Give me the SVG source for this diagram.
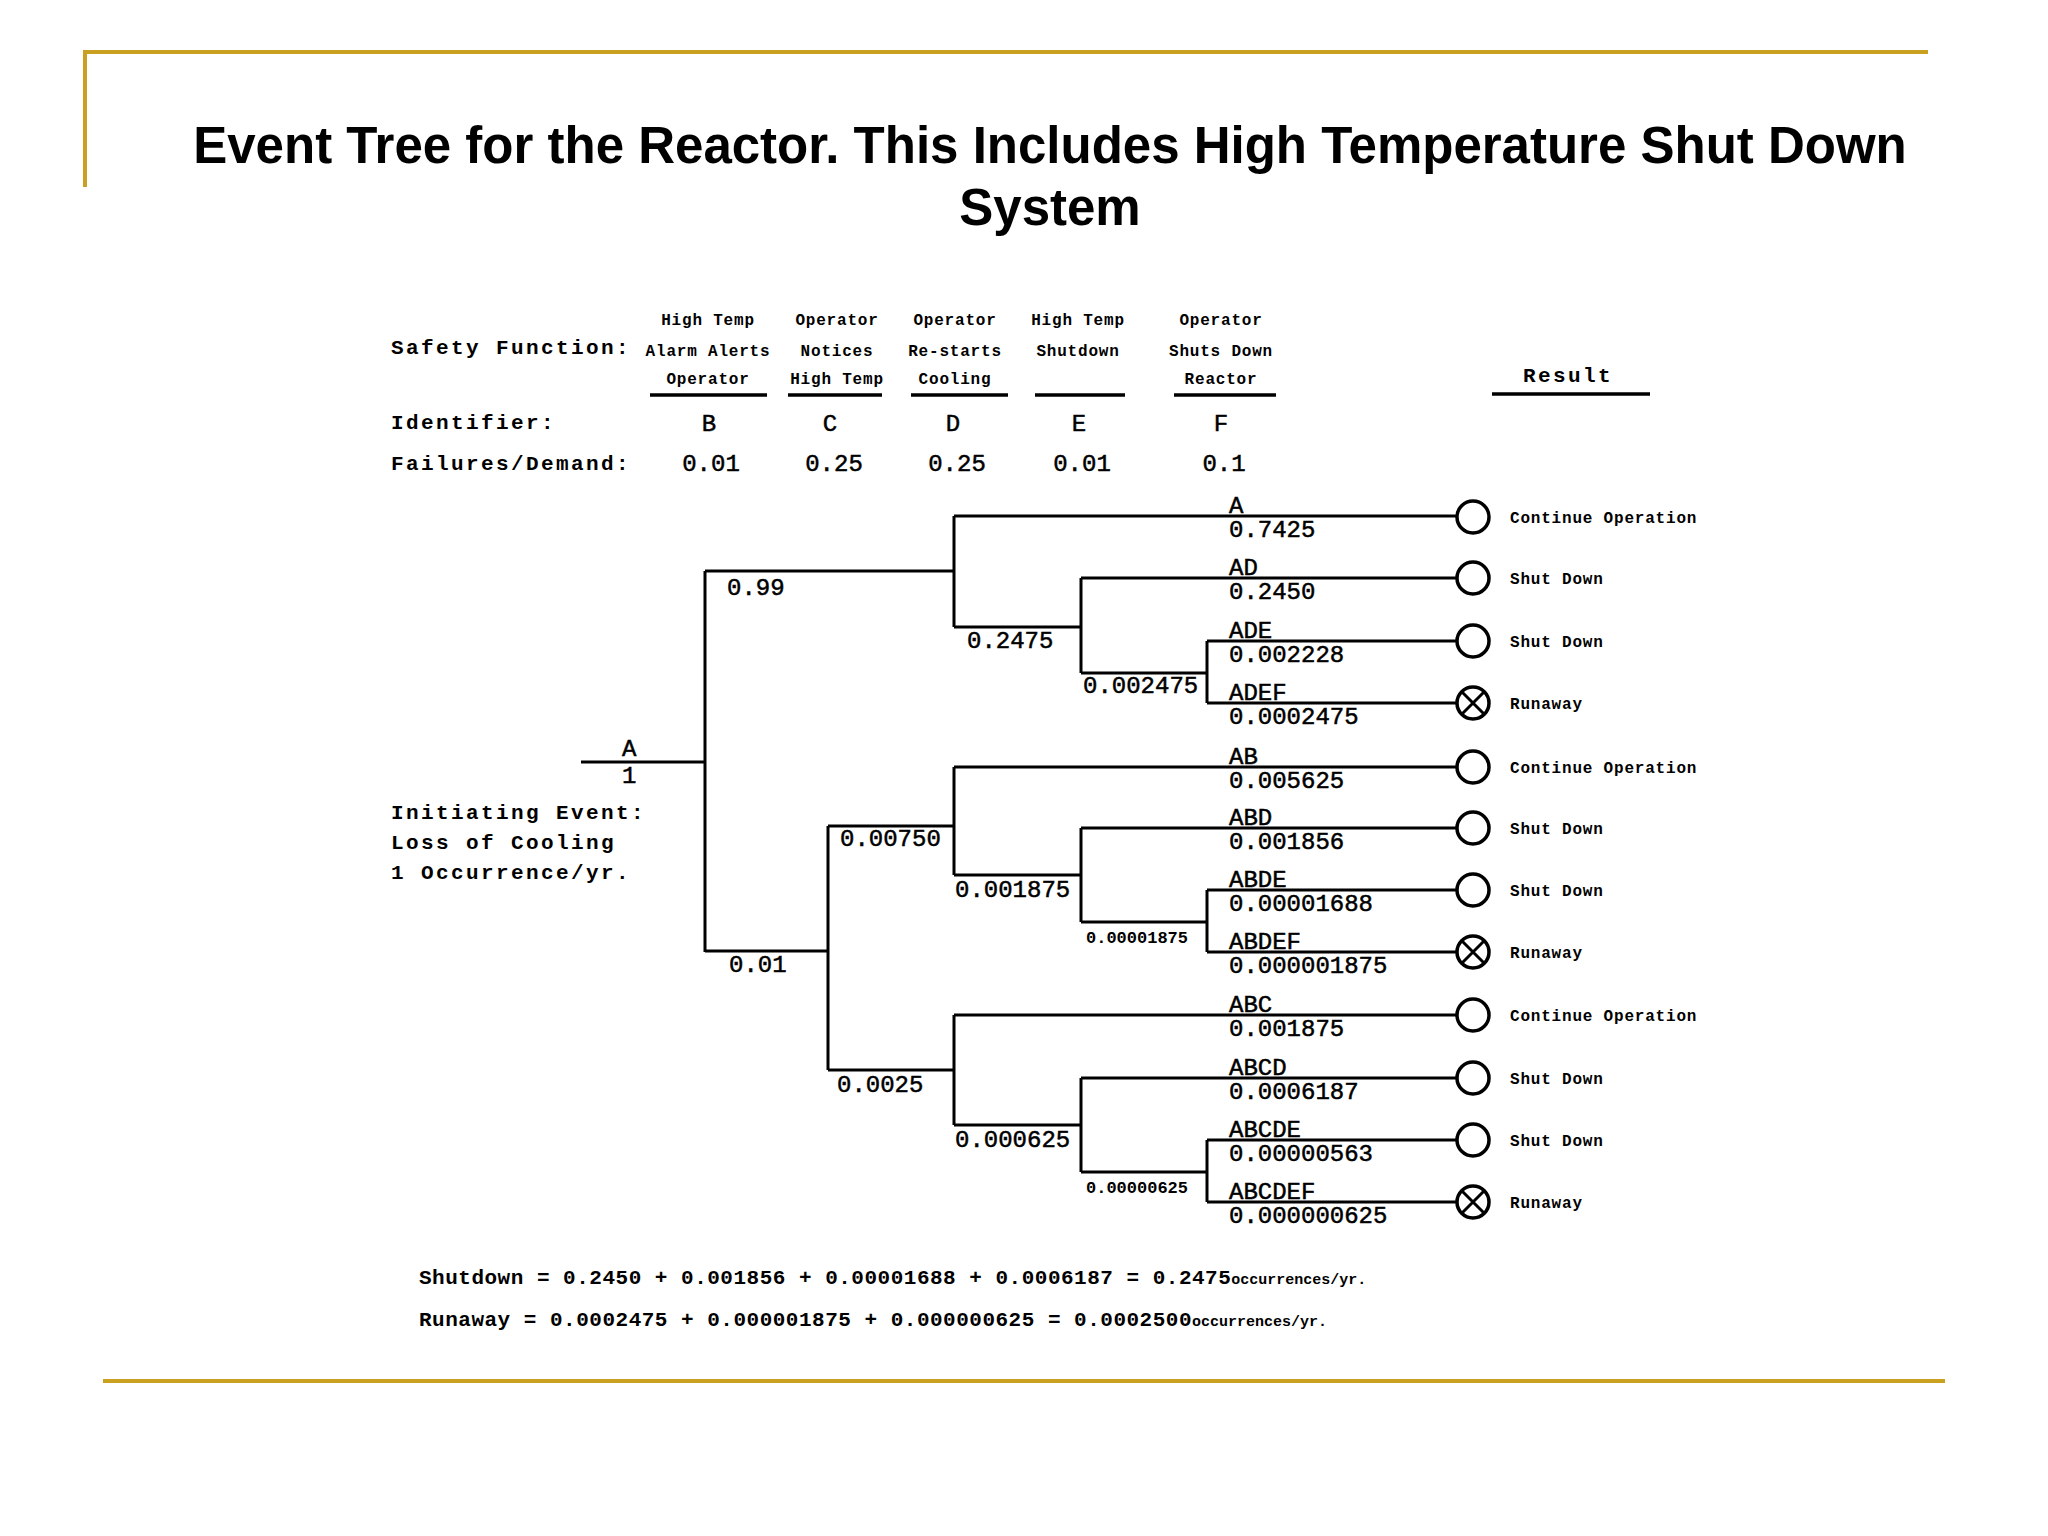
<svg xmlns="http://www.w3.org/2000/svg" width="2048" height="1536" viewBox="0 0 2048 1536">
<defs>
<style>
.frame{stroke:#C9A020;stroke-width:4;fill:none}
.title{font-family:"Liberation Sans",Arial,sans-serif;font-weight:bold;font-size:51px;fill:#000;text-anchor:middle}
.lbl{font-family:"Liberation Mono","DejaVu Sans Mono",monospace;font-weight:bold;font-size:21px;letter-spacing:2.4px;fill:#000}
.sm{font-family:"Liberation Mono","DejaVu Sans Mono",monospace;font-weight:bold;font-size:16px;letter-spacing:0.8px;fill:#000}
.hd{text-anchor:middle}
.num{font-family:"Liberation Mono","DejaVu Sans Mono",monospace;font-weight:normal;font-size:24px;fill:#000;stroke:#000;stroke-width:0.5}
.tiny{font-family:"Liberation Mono","DejaVu Sans Mono",monospace;font-weight:bold;font-size:17px;fill:#000}
.eq{font-family:"Liberation Mono","DejaVu Sans Mono",monospace;font-weight:bold;font-size:21px;letter-spacing:0.5px;fill:#000}
.occ{font-size:15px;letter-spacing:0}
.ln{stroke:#000;stroke-width:3;fill:none}
.ul{stroke:#000;stroke-width:3.5;fill:none}
.end{stroke:#000;stroke-width:3.5;fill:#fff}
</style>
</defs>
<rect width="2048" height="1536" fill="#fff"/>
<g id="frame">
<path class="frame" d="M85 52 H1928 M85 50 V187"/>
<path class="frame" d="M103 1381 H1945"/>
</g>
<g id="title">
<text class="title" x="1050" y="163">Event Tree for the Reactor. This Includes High Temperature Shut Down</text>
<text class="title" x="1050" y="225">System</text>
</g>
<g id="header">
<text class="lbl" x="391" y="354">Safety Function:</text>
<text class="lbl" x="391" y="429">Identifier:</text>
<text class="lbl" x="391" y="470">Failures/Demand:</text>
<g id="colB">
<text class="sm hd" x="708" y="325">High Temp</text>
<text class="sm hd" x="708" y="356">Alarm Alerts</text>
<text class="sm hd" x="708" y="384">Operator</text>
<path class="ul" d="M650 395 H767"/>
<text class="num hd" x="709" y="431">B</text>
<text class="num hd" x="711" y="471">0.01</text>
</g>
<g id="colC">
<text class="sm hd" x="837" y="325">Operator</text>
<text class="sm hd" x="837" y="356">Notices</text>
<text class="sm hd" x="837" y="384">High Temp</text>
<path class="ul" d="M788 395 H882"/>
<text class="num hd" x="830" y="431">C</text>
<text class="num hd" x="834" y="471">0.25</text>
</g>
<g id="colD">
<text class="sm hd" x="955" y="325">Operator</text>
<text class="sm hd" x="955" y="356">Re-starts</text>
<text class="sm hd" x="955" y="384">Cooling</text>
<path class="ul" d="M911 395 H1008"/>
<text class="num hd" x="953" y="431">D</text>
<text class="num hd" x="957" y="471">0.25</text>
</g>
<g id="colE">
<text class="sm hd" x="1078" y="325">High Temp</text>
<text class="sm hd" x="1078" y="356">Shutdown</text>
<path class="ul" d="M1035 395 H1125"/>
<text class="num hd" x="1079" y="431">E</text>
<text class="num hd" x="1082" y="471">0.01</text>
</g>
<g id="colF">
<text class="sm hd" x="1221" y="325">Operator</text>
<text class="sm hd" x="1221" y="356">Shuts Down</text>
<text class="sm hd" x="1221" y="384">Reactor</text>
<path class="ul" d="M1174 395 H1276"/>
<text class="num hd" x="1221" y="431">F</text>
<text class="num hd" x="1224" y="471">0.1</text>
</g>
<g id="result-head">
<text class="lbl" x="1523" y="382">Result</text>
<path class="ul" d="M1492 394 H1650"/>
</g>
</g>
<g id="initiating">
<text class="num" x="622" y="756">A</text>
<text class="num" x="622" y="783">1</text>
<text class="lbl" x="391" y="819">Initiating Event:</text>
<text class="lbl" x="391" y="849">Loss of Cooling</text>
<text class="lbl" x="391" y="879">1 Occurrence/yr.</text>
</g>
<g id="connectors">
<path class="ln" d="M581 762 H705 M705 571 V952"/>
<path class="ln" d="M705 571 H954 M705 951 H828"/>
<path class="ln" d="M954 516 V627 M954 627 H1081 M1081 578 V673 M1081 673 H1207 M1207 641 V703"/>
<path class="ln" d="M828 826 V1070 M828 826 H954 M828 1070 H954"/>
<path class="ln" d="M954 767 V875 M954 875 H1081 M1081 828 V922 M1081 922 H1207 M1207 890 V952"/>
<path class="ln" d="M954 1015 V1125 M954 1125 H1081 M1081 1078 V1172 M1081 1172 H1207 M1207 1140 V1202"/>
<path class="ln" d="M954 516 H1456 M1081 578 H1456 M1207 641 H1456 M1207 703 H1456"/>
<path class="ln" d="M954 767 H1456 M1081 828 H1456 M1207 890 H1456 M1207 952 H1456"/>
<path class="ln" d="M954 1015 H1456 M1081 1078 H1456 M1207 1140 H1456 M1207 1202 H1456"/>
</g>
<g id="branch-labels">
<text class="num" x="727" y="595">0.99</text>
<text class="num" x="729" y="972">0.01</text>
<text class="num" x="967" y="648">0.2475</text>
<text class="num" x="1083" y="693">0.002475</text>
<text class="num" x="840" y="846">0.00750</text>
<text class="num" x="955" y="897">0.001875</text>
<text class="tiny" x="1086" y="943">0.00001875</text>
<text class="num" x="837" y="1092">0.0025</text>
<text class="num" x="955" y="1147">0.000625</text>
<text class="tiny" x="1086" y="1193">0.00000625</text>
</g>
<g id="leaf-A">
<text class="num" x="1229" y="513">A</text><text class="num" x="1229" y="537">0.7425</text>
<circle class="end" cx="1473" cy="517" r="16"/>
<text class="sm" x="1510" y="523">Continue Operation</text>
</g>
<g id="leaf-AD">
<text class="num" x="1229" y="575">AD</text><text class="num" x="1229" y="599">0.2450</text>
<circle class="end" cx="1473" cy="578" r="16"/>
<text class="sm" x="1510" y="584">Shut Down</text>
</g>
<g id="leaf-ADE">
<text class="num" x="1229" y="638">ADE</text><text class="num" x="1229" y="662">0.002228</text>
<circle class="end" cx="1473" cy="641" r="16"/>
<text class="sm" x="1510" y="647">Shut Down</text>
</g>
<g id="leaf-ADEF">
<text class="num" x="1229" y="700">ADEF</text><text class="num" x="1229" y="724">0.0002475</text>
<circle class="end" cx="1473" cy="703" r="16"/>
<path class="ln" d="M1462 692 L1484 714 M1484 692 L1462 714"/>
<text class="sm" x="1510" y="709">Runaway</text>
</g>
<g id="leaf-AB">
<text class="num" x="1229" y="764">AB</text><text class="num" x="1229" y="788">0.005625</text>
<circle class="end" cx="1473" cy="767" r="16"/>
<text class="sm" x="1510" y="773">Continue Operation</text>
</g>
<g id="leaf-ABD">
<text class="num" x="1229" y="825">ABD</text><text class="num" x="1229" y="849">0.001856</text>
<circle class="end" cx="1473" cy="828" r="16"/>
<text class="sm" x="1510" y="834">Shut Down</text>
</g>
<g id="leaf-ABDE">
<text class="num" x="1229" y="887">ABDE</text><text class="num" x="1229" y="911">0.00001688</text>
<circle class="end" cx="1473" cy="890" r="16"/>
<text class="sm" x="1510" y="896">Shut Down</text>
</g>
<g id="leaf-ABDEF">
<text class="num" x="1229" y="949">ABDEF</text><text class="num" x="1229" y="973">0.000001875</text>
<circle class="end" cx="1473" cy="952" r="16"/>
<path class="ln" d="M1462 941 L1484 963 M1484 941 L1462 963"/>
<text class="sm" x="1510" y="958">Runaway</text>
</g>
<g id="leaf-ABC">
<text class="num" x="1229" y="1012">ABC</text><text class="num" x="1229" y="1036">0.001875</text>
<circle class="end" cx="1473" cy="1015" r="16"/>
<text class="sm" x="1510" y="1021">Continue Operation</text>
</g>
<g id="leaf-ABCD">
<text class="num" x="1229" y="1075">ABCD</text><text class="num" x="1229" y="1099">0.0006187</text>
<circle class="end" cx="1473" cy="1078" r="16"/>
<text class="sm" x="1510" y="1084">Shut Down</text>
</g>
<g id="leaf-ABCDE">
<text class="num" x="1229" y="1137">ABCDE</text><text class="num" x="1229" y="1161">0.00000563</text>
<circle class="end" cx="1473" cy="1140" r="16"/>
<text class="sm" x="1510" y="1146">Shut Down</text>
</g>
<g id="leaf-ABCDEF">
<text class="num" x="1229" y="1199">ABCDEF</text><text class="num" x="1229" y="1223">0.000000625</text>
<circle class="end" cx="1473" cy="1202" r="16"/>
<path class="ln" d="M1462 1191 L1484 1213 M1484 1191 L1462 1213"/>
<text class="sm" x="1510" y="1208">Runaway</text>
</g>
<g id="totals">
<text class="eq" x="419" y="1284">Shutdown = 0.2450 + 0.001856 + 0.00001688 + 0.0006187 = 0.2475<tspan class="occ">occurrences/yr.</tspan></text>
<text class="eq" x="419" y="1326">Runaway = 0.0002475 + 0.000001875 + 0.000000625 = 0.0002500<tspan class="occ">occurrences/yr.</tspan></text>
</g>
</svg>
